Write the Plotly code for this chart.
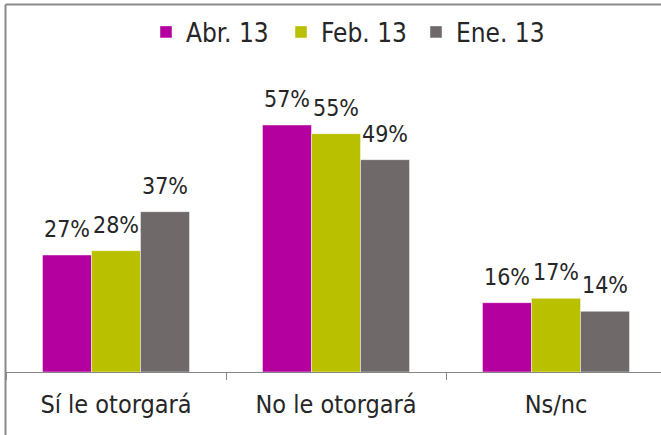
import plotly.graph_objects as go

categories = ["Sí le otorgará", "No le otorgará", "Ns/nc"]
series_names = ["Abr. 13", "Feb. 13", "Ene. 13"]
abr_13 = [27, 57, 16]
feb_13 = [28, 55, 17]
ene_13 = [37, 49, 14]
colors = ["#B4009E", "#B8C000", "#6F6A69"]

FONT = "DejaVu Sans Condensed, DejaVu Sans"
TXT = "#262626"

W, H = 661, 435
left, bottom = 6, 372
plot_w = W - left
plot_h = 260
cat_px = 220
bar_px = 49

fig = go.Figure()
all_vals = [abr_13, feb_13, ene_13]
for i, (name, vals, col) in enumerate(zip(series_names, all_vals, colors)):
    fig.add_trace(go.Bar(
        x=categories, y=vals, name=name,
        marker=dict(color=col, line=dict(color="rgba(255,255,255,0.45)", width=1)),
        hoverinfo="x+y+name",
    ))
    for c, v in zip(categories, vals):
        fig.add_annotation(
            x=c, y=v, xref="x", yref="y", text=f"{v}%", showarrow=False,
            xanchor="center", yanchor="bottom", xshift=(i - 1) * bar_px, yshift=11,
            font=dict(family=FONT, size=23, color=TXT),
        )

fig.update_layout(
    width=W, height=H,
    margin=dict(l=left, r=0, t=bottom - plot_h, b=H - bottom, pad=0),
    paper_bgcolor="white", plot_bgcolor="white",
    barmode="group", bargap=1 - 3 * bar_px / cat_px, bargroupgap=0,
    font=dict(family=FONT, size=25, color=TXT),
    showlegend=True,
    legend=dict(orientation="h", x=(146 - left) / plot_w, xanchor="left",
                y=(bottom - 32) / plot_h, yanchor="middle",
                font=dict(family=FONT, size=26, color=TXT),
                itemwidth=30, entrywidth=90, entrywidthmode="pixels",
                bgcolor="rgba(0,0,0,0)"),
    xaxis=dict(type="category", range=[-0.5, -0.5 + plot_w / cat_px],
               showline=True, linecolor="#868686", linewidth=1,
               ticks="outside", ticklen=7, tickcolor="#868686", tickson="boundaries",
               ticklabelstandoff=10,
               tickfont=dict(family=FONT, size=25, color=TXT), showgrid=False),
    yaxis=dict(range=[0, 60], visible=False, showgrid=False),
)

# outer chart border (left and top edges visible in crop)
fig.add_shape(type="line", xref="paper", yref="paper",
              x0=(5.5 - left) / plot_w, x1=1.0,
              y0=(bottom - 4.5) / plot_h, y1=(bottom - 4.5) / plot_h,
              line=dict(color="#898989", width=2), layer="above")
fig.add_shape(type="line", xref="paper", yref="paper",
              x0=(5.5 - left) / plot_w, x1=(5.5 - left) / plot_w,
              y0=(bottom - H - 10) / plot_h, y1=(bottom - 4.5) / plot_h,
              line=dict(color="#898989", width=2), layer="above")

fig.write_html("out.html", config={"displayModeBar": False},
               post_script="document.body.style.margin='0';")
